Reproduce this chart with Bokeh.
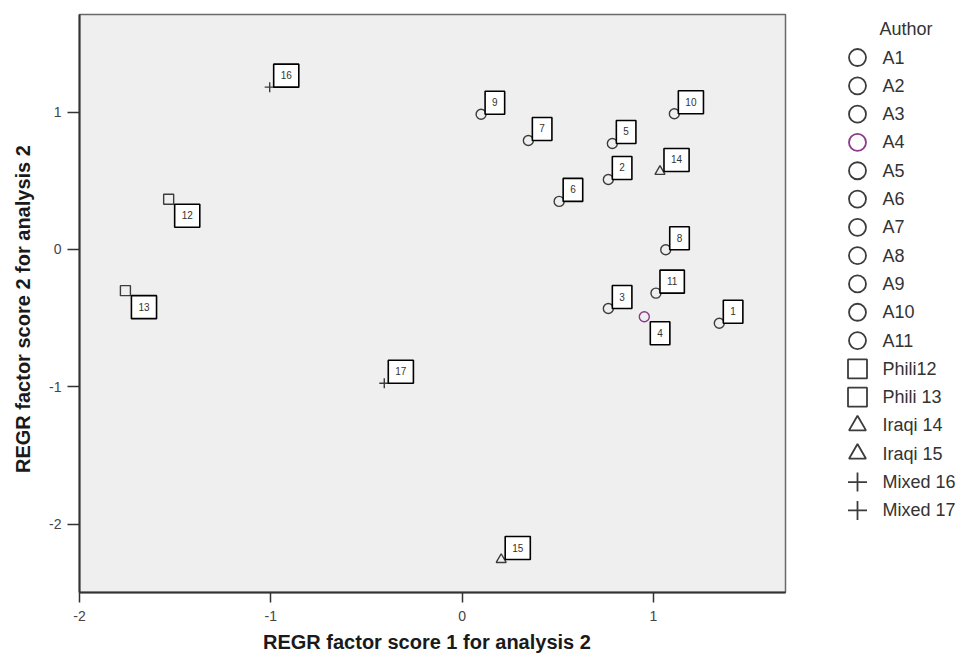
from bokeh.plotting import figure
from bokeh.layouts import row
from bokeh.models import ColumnDataSource, FixedTicker, Range1d
from bokeh.core.properties import value
from bokeh.embed import file_html
from bokeh.resources import INLINE

# ---- data -------------------------------------------------------------
authors = ["A1", "A2", "A3", "A4", "A5", "A6", "A7", "A8", "A9", "A10", "A11",
           "Phili12", "Phili 13", "Iraqi 14", "Iraqi 15", "Mixed 16", "Mixed 17"]
point_ids = ["1", "2", "3", "4", "5", "6", "7", "8", "9", "10", "11",
             "12", "13", "14", "15", "16", "17"]
score1 = [1.344, 0.764, 0.764, 0.952, 0.785, 0.507, 0.346, 1.064, 0.099, 1.109,
          1.013, -1.534, -1.760, 1.034, 0.204, -1.006, -0.407]
score2 = [-0.537, 0.510, -0.430, -0.490, 0.772, 0.350, 0.794, -0.002, 0.985, 0.988,
          -0.318, 0.366, -0.300, 0.568, -2.258, 1.182, -0.974]
groups = ["Author"] * 11 + ["Phili"] * 2 + ["Iraqi"] * 2 + ["Mixed"] * 2
label_side = ["above", "above", "above", "below", "above", "above", "above", "above",
              "above", "above", "above", "below", "below", "above", "above", "above",
              "above"]
x_ticks = [-2, -1, 0, 1]
y_ticks = [-2, -1, 0, 1]
legend_title = "Author"

# ---- styles -----------------------------------------------------------
marker_for_group = {"Author": "circle", "Phili": "square", "Iraqi": "triangle",
                    "Mixed": "cross"}
legend_size_for_group = {"Author": 17, "Phili": 19, "Iraqi": 17, "Mixed": 19}
GRAY = "#3c3c3c"
PURPLE = "#8b3a8b"
colors = [PURPLE if a == "A4" else GRAY for a in authors]
markers = [marker_for_group[g] for g in groups]
FONT = "Liberation Sans"

src = ColumnDataSource(dict(x=score1, y=score2, author=authors, pid=point_ids,
                            marker=markers, color=colors))

p = figure(width=800, height=656, output_backend="svg", toolbar_location=None,
           x_range=Range1d(-2.0, 1.69), y_range=Range1d(-2.498, 1.711),
           min_border_left=79, min_border_right=15, min_border_top=14,
           min_border_bottom=64)

p.background_fill_color = "#efefef"
p.border_fill_color = "white"
p.outline_line_color = "#6a6a6a"
p.outline_line_width = 1.5
p.xgrid.visible = False
p.ygrid.visible = False

for ax, ticks in ((p.xaxis, x_ticks), (p.yaxis, y_ticks)):
    ax.ticker = FixedTicker(ticks=ticks)
    ax.major_label_overrides = {t: str(t) for t in ticks}
    ax.minor_tick_line_color = None
    ax.axis_line_color = "#333333"
    ax.axis_line_width = 2
    ax.major_tick_line_color = "#333333"
    ax.major_tick_line_width = 1.5
    ax.major_tick_in = 0
    ax.major_label_text_font = FONT
    ax.major_label_text_font_size = "14px"
    ax.major_label_text_color = "#444444"
    ax.axis_label_text_font = FONT
    ax.axis_label_text_font_size = "20px"
    ax.axis_label_text_font_style = "bold"
    ax.axis_label_text_color = "#1a1a1a"

p.xaxis.major_tick_out = 10
p.xaxis.major_label_standoff = 8
p.xaxis.axis_label_standoff = 7
p.yaxis.major_tick_out = 12
p.yaxis.major_label_standoff = 6
p.yaxis.axis_label_standoff = 12
p.xaxis.axis_label = "REGR factor score   1 for analysis 2"
p.yaxis.axis_label = "REGR factor score   2 for analysis 2"

p.scatter(x="x", y="y", source=src, marker="marker", size=10,
          line_color="color", fill_color=None, line_width=1.4)

# point labels in boxes
above = [i for i, s in enumerate(label_side) if s == "above"]
below = [i for i, s in enumerate(label_side) if s == "below"]
for idx, base, yoff, xoff in ((above, "bottom", 0, 4), (below, "top", 5, 6)):
    s = ColumnDataSource(dict(x=[score1[i] for i in idx], y=[score2[i] for i in idx],
                              t=[point_ids[i] for i in idx]))
    p.text(x="x", y="y", text="t", source=s, x_offset=xoff, y_offset=yoff,
           text_align="left", text_baseline=base, text_font=value(FONT),
           text_font_size="10px", text_color="#333333",
           background_fill_color="white", border_line_color="black",
           border_line_width=1.6, padding=dict(left=7, right=7, top=7, bottom=8))

# ---- legend panel (drawn as its own small figure) ---------------------
# (its frame is aligned with the main frame: 578 px tall, 28.3 px per item)
item_pos = list(range(len(authors)))
leg_src = ColumnDataSource(dict(
    x=[0] * len(authors), y=item_pos, label=authors, marker=markers, color=colors,
    size=[legend_size_for_group[g] for g in groups]))

leg = figure(width=174, height=656, output_backend="svg", toolbar_location=None,
             x_range=Range1d(-57, 117), y_range=Range1d(18.90, -1.52),
             x_axis_type=None, y_axis_type=None, min_border=0)
leg.outline_line_color = None
leg.background_fill_color = "white"
leg.border_fill_color = "white"
leg.xgrid.visible = False
leg.ygrid.visible = False

leg.scatter(x="x", y="y", source=leg_src, marker="marker", size="size",
            line_color="color", fill_color=None, line_width=1.8)
leg.text(x="x", y="y", text="label", source=leg_src, x_offset=25,
         text_align="left", text_baseline="middle", text_font=value(FONT),
         text_font_size="18px", text_color="#333333")
leg.text(x=[0], y=[-1], text=[legend_title], x_offset=22, text_align="left",
         text_baseline="middle", text_font=value(FONT), text_font_size="18px",
         text_color="#333333")

layout = row(p, leg, spacing=0)
open("out.html", "w").write(file_html(layout, INLINE))
